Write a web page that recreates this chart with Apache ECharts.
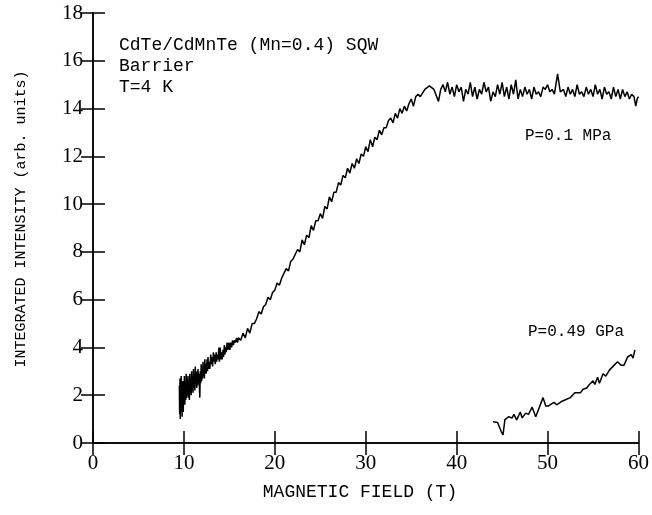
<!DOCTYPE html>
<html>
<head>
<meta charset="utf-8">
<script src="https://cdn.jsdelivr.net/npm/echarts@6/dist/echarts.min.js"></script>
<style>
html, body { margin: 0; padding: 0; background: #fff; }
#chart { width: 652px; height: 515px; }
</style>
</head>
<body>
<div id="chart"></div>
<script>
// 轴刻度
const xTicks = [0, 10, 20, 30, 40, 50, 60];
const yTicks = [0, 2, 4, 6, 8, 10, 12, 14, 16, 18];

// 注释文字
const sampleLines = ["CdTe/CdMnTe (Mn=0.4) SQW", "Barrier", "T=4 K"];
const lowLabel = "P=0.1 MPa";
const highLabel = "P=0.49 GPa";

// P=0.1 MPa 曲线 [磁场, 强度]
const lowPressure = [
    [9.50, 2.4], [9.53, 1.2], [9.57, 2.7], [9.60, 1.0], [9.63, 2.5], [9.67, 1.4], [9.70, 2.8], [9.73, 1.3],
    [9.77, 2.2], [9.80, 1.1], [9.83, 2.6], [9.87, 1.6], [9.90, 2.4], [9.93, 1.3], [9.97, 2.6], [10.00, 1.7],
    [10.05, 2.8], [10.10, 1.6], [10.15, 2.5], [10.20, 1.8], [10.25, 2.9], [10.30, 1.9], [10.35, 2.7], [10.40, 2.0],
    [10.45, 2.8], [10.50, 1.9], [10.55, 2.5], [10.60, 1.8], [10.65, 2.9], [10.70, 2.1], [10.75, 2.7], [10.80, 2.0],
    [10.85, 3.0], [10.90, 2.2], [10.95, 2.8], [11.00, 2.1], [11.05, 3.1], [11.10, 2.3], [11.15, 2.9], [11.20, 2.2],
    [11.25, 3.2], [11.30, 2.5], [11.35, 2.9], [11.40, 2.3], [11.45, 3.0], [11.50, 2.4], [11.55, 3.1], [11.60, 2.5],
    [11.65, 2.9], [11.75, 1.9], [11.80, 3.0], [11.85, 2.5], [11.90, 3.3], [11.95, 2.6], [12.00, 3.1], [12.05, 2.7],
    [12.10, 3.4], [12.15, 2.8], [12.20, 3.2], [12.25, 2.7], [12.30, 3.5], [12.35, 2.9], [12.40, 3.3], [12.45, 2.9],
    [12.55, 3.5], [12.60, 3.0], [12.65, 3.6], [12.70, 3.1], [12.80, 3.4], [12.85, 3.1], [12.95, 3.7], [13.00, 3.3],
    [13.10, 3.6], [13.15, 3.2], [13.25, 3.8], [13.30, 3.4], [13.40, 3.7], [13.45, 3.3], [13.55, 3.8], [13.60, 3.4],
    [13.70, 3.7], [13.75, 3.5], [13.85, 4.0], [13.90, 3.4], [14.00, 4.0], [14.05, 3.5], [14.15, 3.8], [14.20, 3.5],
    [14.30, 3.9], [14.35, 3.6], [14.45, 4.1], [14.50, 3.7], [14.60, 4.0], [14.65, 3.8], [14.75, 4.2], [14.85, 3.9],
    [14.95, 4.2], [15.05, 3.9], [15.15, 4.2], [15.25, 4.0], [15.35, 4.3], [15.45, 4.1], [15.55, 4.3], [15.65, 4.2],
    [15.80, 4.4], [15.90, 4.2], [16.00, 4.4],
    [16.25, 4.3], [16.5, 4.6], [16.75, 4.4], [17.0, 4.8], [17.25, 4.6], [17.5, 5.0], [17.75, 5.0], [18.0, 5.2],
    [18.25, 5.5], [18.5, 5.4], [18.75, 5.7], [19.0, 5.8], [19.25, 6.1], [19.5, 6.0], [19.75, 6.3], [20.0, 6.4],
    [20.25, 6.7], [20.5, 6.6], [20.75, 6.9], [21.0, 7.1], [21.25, 7.3], [21.5, 7.2], [21.75, 7.6], [22.0, 7.7],
    [22.25, 7.9], [22.5, 8.1], [22.75, 8.0], [23.0, 8.5], [23.25, 8.3], [23.5, 8.7], [23.75, 8.6], [24.0, 9.1],
    [24.25, 8.9], [24.5, 9.3], [24.75, 9.3], [25.0, 9.6], [25.25, 9.4], [25.5, 9.9], [25.75, 9.8], [26.0, 10.3],
    [26.25, 10.1], [26.5, 10.5], [26.75, 10.5], [27.0, 10.9], [27.25, 10.8], [27.5, 11.2], [27.75, 11.1], [28.0, 11.5],
    [28.25, 11.3], [28.5, 11.7], [28.75, 11.5], [29.0, 11.9], [29.25, 11.7], [29.5, 12.1], [29.75, 12.0], [30.0, 12.4],
    [30.25, 12.2], [30.5, 12.7], [30.75, 12.4], [31.0, 12.8], [31.25, 12.7], [31.5, 13.1], [31.75, 12.9], [32.0, 13.2],
    [32.25, 13.2], [32.5, 13.5], [32.75, 13.6], [33.0, 13.4], [33.25, 13.8], [33.5, 13.6], [33.75, 14.0], [34.0, 13.8],
    [34.25, 14.1], [34.5, 13.9], [34.75, 14.2], [35.0, 14.4], [35.25, 14.1], [35.5, 14.5], [35.75, 14.6], [36.0, 14.5],
    [36.5, 14.8], [37.0, 14.95], [37.5, 14.8], [38.0, 14.3],
    [38.25, 14.8], [38.5, 15.0], [38.75, 14.7], [39.0, 15.1], [39.25, 14.6], [39.5, 14.9], [39.75, 14.5], [40.0, 15.0],
    [40.25, 14.7], [40.5, 14.9], [40.75, 14.3], [41.0, 14.8], [41.25, 14.6], [41.5, 15.1], [41.75, 14.5], [42.0, 14.9],
    [42.25, 14.4], [42.5, 14.8], [42.75, 14.6], [43.0, 15.1], [43.25, 14.7], [43.5, 14.9], [43.75, 14.3], [44.0, 14.7],
    [44.25, 14.5], [44.5, 15.0], [44.75, 14.6], [45.0, 15.1], [45.25, 14.5], [45.5, 14.9], [45.75, 14.4], [46.0, 15.0],
    [46.25, 14.6], [46.5, 15.2], [46.75, 14.4], [47.0, 14.8], [47.25, 14.5], [47.5, 14.9], [47.75, 14.6], [48.0, 14.8],
    [48.25, 14.4], [48.5, 14.9], [48.75, 14.6], [49.0, 14.7], [49.25, 14.5], [49.5, 14.9], [49.75, 14.8], [50.0, 15.0],
    [50.25, 14.7], [50.5, 14.8], [50.75, 14.6], [51.1, 15.45], [51.4, 14.7], [51.75, 14.8], [52.0, 14.5], [52.25, 14.9],
    [52.5, 14.6], [52.75, 14.8], [53.0, 14.5], [53.25, 15.0], [53.5, 14.6], [53.75, 14.7], [54.0, 14.5], [54.25, 14.9],
    [54.5, 14.6], [54.75, 14.8], [55.0, 14.5], [55.25, 15.0], [55.5, 14.6], [55.75, 14.8], [56.0, 14.4], [56.25, 14.9],
    [56.5, 14.6], [56.75, 14.7], [57.0, 14.4], [57.25, 14.9], [57.5, 14.5], [57.75, 14.8], [58.0, 14.4], [58.25, 14.8],
    [58.5, 14.5], [58.75, 14.7], [59.0, 14.4], [59.25, 14.6], [59.5, 14.5], [59.7, 14.1], [59.85, 14.4], [60.0, 14.5]
];

// P=0.49 GPa 曲线 [磁场, 强度]
const highPressure = [
    [44.0, 0.89], [44.5, 0.86], [44.9, 0.48], [45.1, 0.34], [45.3, 0.97], [45.7, 1.1], [46.1, 1.05], [46.3, 1.2],
    [46.6, 0.97], [47.0, 1.3], [47.2, 1.05], [47.6, 1.25], [47.9, 1.2], [48.3, 1.5], [48.7, 1.1], [49.0, 1.4],
    [49.5, 1.9], [49.8, 1.55], [50.1, 1.55], [50.7, 1.7], [51.0, 1.6], [51.6, 1.75], [51.9, 1.8], [52.5, 1.9],
    [53.0, 2.1], [53.6, 2.1], [53.9, 2.25], [54.3, 2.3], [54.6, 2.45], [55.0, 2.6], [55.2, 2.45], [55.5, 2.75],
    [55.7, 2.5], [56.1, 2.9], [56.4, 2.8], [56.8, 3.05], [57.0, 3.0], [57.3, 3.25], [57.7, 3.4], [58.1, 3.25],
    [58.4, 3.25], [58.8, 3.6], [59.2, 3.7], [59.4, 3.55], [59.6, 3.9]
];

const chart = echarts.init(document.getElementById("chart"));

const serif = "Liberation Serif";
const mono = "Liberation Mono";
const axisLine = { show: true, lineStyle: { color: "#000", width: 1.5 } };
const tick = { show: true, inside: true, length: 12, lineStyle: { color: "#000", width: 1.5 } };

const option = {
    animation: false,
    backgroundColor: "#fff",
    grid: { left: 93, right: 13, top: 13, bottom: 72 },
    xAxis: [
        {
            type: "value", min: xTicks[0], max: xTicks[xTicks.length - 1], interval: 10,
            axisLine, axisTick: tick, splitLine: { show: false },
            axisLabel: { color: "#000", fontFamily: serif, fontSize: 21, margin: 10 }
        },
        {
            type: "value", position: "top", min: xTicks[0], max: xTicks[xTicks.length - 1], interval: 10,
            axisLine, axisTick: tick, splitLine: { show: false }, axisLabel: { show: false }
        }
    ],
    yAxis: [
        {
            type: "value", min: yTicks[0], max: yTicks[yTicks.length - 1], interval: 2,
            axisLine, axisTick: tick, splitLine: { show: false },
            axisLabel: { color: "#000", fontFamily: serif, fontSize: 21, margin: 10 }
        },
        {
            type: "value", position: "right", min: yTicks[0], max: yTicks[yTicks.length - 1], interval: 2,
            axisLine, axisTick: tick, splitLine: { show: false }, axisLabel: { show: false }
        }
    ],
    series: [
        {
            type: "line", data: lowPressure, showSymbol: false, silent: true,
            lineStyle: { color: "#000", width: 1.5 }
        },
        {
            type: "line", data: highPressure, showSymbol: false, silent: true,
            lineStyle: { color: "#000", width: 1.5 }
        }
    ],
    graphic: [
        {
            type: "text", left: 119, top: 35,
            style: { text: sampleLines.join("\n"), font: "18px " + mono, lineHeight: 21, fill: "#000" }
        },
        {
            type: "text", left: 525, top: 128,
            style: { text: lowLabel, font: "16px " + mono, fill: "#000" }
        },
        {
            type: "text", left: 528, top: 324,
            style: { text: highLabel, font: "16px " + mono, fill: "#000" }
        },
        {
            type: "text", x: 360, y: 492,
            style: { text: "MAGNETIC FIELD (T)", font: "18px " + mono, fill: "#000", align: "center", verticalAlign: "middle" }
        },
        {
            type: "text", x: 21, y: 219, rotation: Math.PI / 2,
            style: { text: "INTEGRATED INTENSITY (arb. units)", font: "15px " + mono, fill: "#000", align: "center", verticalAlign: "middle" }
        }
    ]
};

chart.setOption(option);
</script>
</body>
</html>
